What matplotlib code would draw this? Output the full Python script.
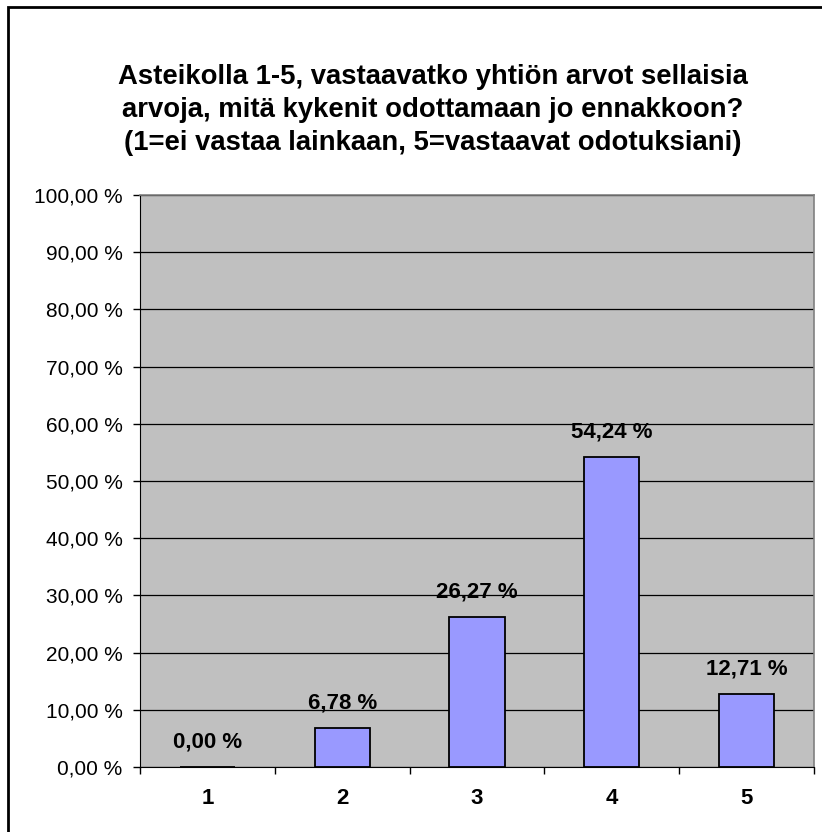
import matplotlib.pyplot as plt
import matplotlib.patches as mpatches
import numpy as np

plt.rcParams["font.family"] = ["Liberation Sans", "DejaVu Sans"]

TITLE = ("Asteikolla 1-5, vastaavatko yhtiön arvot sellaisia\n"
         "arvoja, mitä kykenit odottamaan jo ennakkoon?\n"
         "(1=ei vastaa lainkaan, 5=vastaavat odotuksiani)")
categories = ["1", "2", "3", "4", "5"]
values = [0.00, 6.78, 26.27, 54.24, 12.71]
yticks = np.arange(0, 101, 10)

BAR_COLOR = "#9999FF"
PLOT_BG = "#C0C0C0"


def fmt(v):
    return f"{v:.2f}".replace(".", ",") + " %"


fig = plt.figure(figsize=(8.22, 8.32), dpi=100)
# outer chart frame (runs off the right/bottom edge like the original)
fig.patches.append(mpatches.Rectangle((8 / 822, -0.05), 1.2, 1 - 7 / 832 + 0.05,
                                      transform=fig.transFigure, fill=False,
                                      edgecolor="black", linewidth=2))

ax = fig.add_axes([140 / 822, 1 - 767 / 832, 674 / 822, 572 / 832])
ax.set_facecolor(PLOT_BG)

x = np.arange(len(categories))
ax.bar(x, values, width=0.41, color=BAR_COLOR, edgecolor="black", linewidth=1.3, zorder=3)
for xi, v in zip(x, values):
    ax.annotate(fmt(v), (xi, v), xytext=(0, 18), textcoords="offset points",
                ha="center", va="center", fontsize=16, fontweight="bold", zorder=4)

ax.set_xlim(-0.5, len(categories) - 0.5)
ax.set_ylim(0, 100)
ax.set_yticks(yticks)
ax.set_yticklabels([fmt(t) for t in yticks], fontsize=15)
ax.yaxis.grid(True, color="black", linewidth=0.9, zorder=1)
ax.set_axisbelow(True)

ax.set_xticks(x)
ax.set_xticklabels(categories, fontsize=16, fontweight="bold")
ax.tick_params(axis="x", length=0, pad=15)
ax.set_xticks(np.arange(-0.5, len(categories)), minor=True)
ax.tick_params(axis="x", which="minor", length=5, width=1, color="black", direction="out")
ax.tick_params(axis="y", length=5, width=1, direction="out", pad=7.5)

for side in ["top", "right"]:
    ax.spines[side].set_color("#808080")
    ax.spines[side].set_linewidth(1.2)
ax.spines["left"].set_color("black")
ax.spines["bottom"].set_color("black")

fig.text(433 / 822, 1 - 110 / 832, TITLE, ha="center", va="center", fontsize=19.8,
         fontweight="bold", linespacing=1.33)

fig.savefig("out.png", dpi=100)
